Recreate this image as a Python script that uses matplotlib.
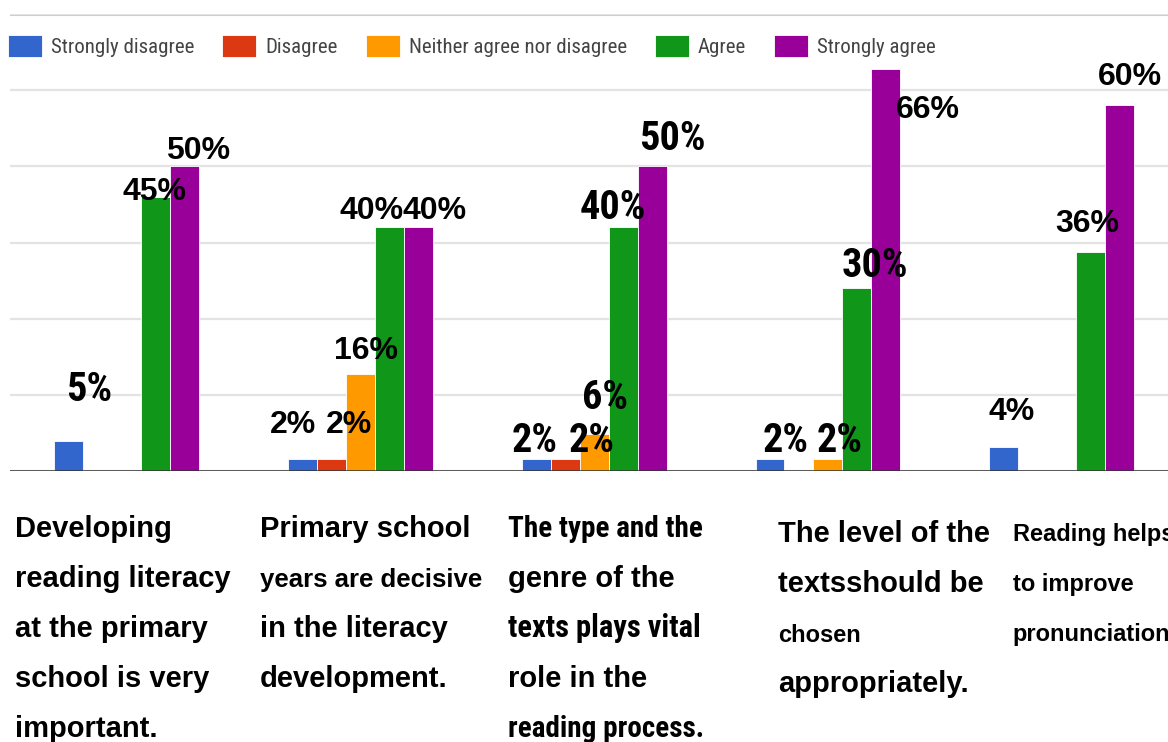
import numpy as np
import matplotlib.pyplot as plt
from matplotlib import font_manager

# survey statements (one list of lines per group) and response shares in %
statements = [
    ["Developing", "reading literacy", "at the primary", "school is very", "important."],
    ["Primary school", "years are decisive", "in the literacy", "development."],
    ["The type and the", "genre of the", "texts plays vital", "role in the", "reading process."],
    ["The level of the", "textsshould be", "chosen", "appropriately."],
    ["Reading helps", "to improve", "pronunciation"],
]
responses = ["Strongly disagree", "Disagree", "Neither agree nor disagree", "Agree", "Strongly agree"]
strongly_disagree = [5, 2, 2, 2, 4]
disagree = [None, 2, 2, None, None]
neither = [None, 16, 6, 2, None]
agree = [45, 40, 40, 30, 36]
strongly_agree = [50, 40, 50, 66, 60]
series = [strongly_disagree, disagree, neither, agree, strongly_agree]

colors = ["#3366cc", "#dc3912", "#ff9900", "#109618", "#990099"]

# pick a condensed face if one is installed, otherwise shrink the regular one
faces = {(f.name, f.stretch) for f in font_manager.fontManager.ttflist}
REG = {"family": ["Liberation Sans", "DejaVu Sans"]}
if any(n == "Liberation Sans Narrow" for n, _ in faces):
    NARROW, nscale = {"family": ["Liberation Sans Narrow"]}, 1.0
elif any(n == "Roboto Condensed" for n, _ in faces):
    NARROW, nscale = {"family": ["Roboto Condensed"]}, 1.0
else:
    NARROW, nscale = REG, 0.82

# label placement: (dx, dy) in pixels from bar centre / bar top to the text baseline
label_offsets = [
    [(20, 40), None, None, (-1, -3), (13, 7)],
    [(-10, 26), (17, 26), (5, 15), (-18, 8), (16, 8)],
    [(-2, 7), (26, 7), (11, 25), (-10, 8), (20, 16)],
    [(16, 7), None, (12, 7), (18, 11), (42, -49)],
    [(8, 27), None, None, (-3, 20), (10, 20)],
]
label_narrow = [
    [True, False, False, False, False],
    [False, False, False, False, False],
    [True, True, True, True, True],
    [True, False, True, True, False],
    [False, False, False, False, False],
]
# statement text: left offset (px from group slot), first baseline (px under axis), per line (size, narrow)
stmt_dx = [5, 16, 31, 67, 68]
stmt_y0 = [66, 66, 66, 71, 70]
stmt_style = [
    [(21, False)] * 5,
    [(21, False), (18.5, False), (21, False), (21, False)],
    [(21, True), (21, False), (22, True), (21, False), (21, True)],
    [(21, False), (21, False), (17, False), (21, False)],
    [(17, False)] * 3,
]

W, H = 1168, 742
fig = plt.figure(figsize=(W / 100, H / 100), dpi=100)
ax = fig.add_axes([10 / W, (H - 471) / H, 1168.5 / W, 457 / H])

x = np.arange(len(statements))
width = 0.124
ymax = 75

handles = []
for j, vals in enumerate(series):
    xs = [x[i] + (j - 2) * width for i, v in enumerate(vals) if v is not None]
    hs = [v for v in vals if v is not None]
    b = ax.bar(xs, hs, width, color=colors[j], edgecolor="white", linewidth=0.6,
               label=responses[j], zorder=3)
    handles.append(b)

for i in range(len(statements)):
    for j, vals in enumerate(series):
        v = vals[i]
        if v is None or label_offsets[i][j] is None:
            continue
        dx, dy = label_offsets[i][j]
        if label_narrow[i][j]:
            font, size = NARROW, 29 * nscale
        else:
            font, size = REG, 23
        ax.annotate(f"{v}%", xy=(x[i] + (j - 2) * width, v), xytext=(dx, dy),
                    textcoords="offset pixels", ha="center", va="baseline",
                    fontsize=size, fontweight="bold", color="black", zorder=5,
                    annotation_clip=False, **font)

# statements under each group
for i, lines in enumerate(statements):
    for k, line in enumerate(lines):
        size, narrow = stmt_style[i][k]
        font = NARROW if narrow else REG
        if narrow:
            size = size * nscale
        ax.annotate(line, xy=(x[i] - 0.5, 0), xycoords="data",
                    xytext=(stmt_dx[i], -(stmt_y0[i] + 50 * k)), textcoords="offset pixels",
                    ha="left", va="baseline", fontsize=size, fontweight="bold",
                    color="black", annotation_clip=False, **font)

ax.set_xlim(-0.5, len(statements) - 0.5)
ax.set_ylim(0, ymax)
ax.set_yticks(np.arange(0, ymax + 0.1, 12.5))
ax.set_xticks([])
ax.tick_params(left=False, labelleft=False)
ax.grid(axis="y", color="#e3e3e3", linewidth=1.6, zorder=0)
ax.axhline(ymax, color="#cccccc", linewidth=2.2, zorder=1)
ax.axhline(0, color="#333333", linewidth=1.8, zorder=4)
for s in ax.spines.values():
    s.set_visible(False)

leg_prop = dict(NARROW)
leg_prop["size"] = 15 * nscale
leg = ax.legend(handles=handles, loc="center left", bbox_to_anchor=(8 / W, 1 - 46 / H),
                bbox_transform=fig.transFigure, ncol=5, frameon=False,
                handlelength=1.63 / nscale, handleheight=1.25 / nscale,
                handletextpad=0.43 / nscale, columnspacing=1.35 / nscale,
                borderpad=0, borderaxespad=0, prop=leg_prop)
for t in leg.get_texts():
    t.set_color("#444444")

fig.savefig("out.png", dpi=100)
